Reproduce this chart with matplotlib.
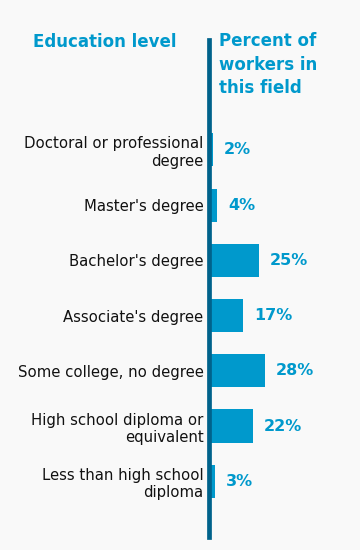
import matplotlib
matplotlib.use("Agg")
import matplotlib.pyplot as plt

categories = ["Doctoral or professional\ndegree", "Master's degree", "Bachelor's degree",
              "Associate's degree", "Some college, no degree",
              "High school diploma or\nequivalent", "Less than high school\ndiploma"]
percents = [2, 4, 25, 17, 28, 22, 3]
value_labels = ["2%", "4%", "25%", "17%", "28%", "22%", "3%"]

bar_color = "#0099CC"
axis_color = "#00628B"
bg = "#F9F9F9"

plt.rcParams['font.family'] = ['DejaVu Sans']

fig = plt.figure(figsize=(3.6, 5.5), dpi=100, facecolor=bg)
# x=0 sits on the axis line, 2 px per percent
ax = fig.add_axes([209 / 360, 1 - 537 / 550, 150 / 360, 497 / 550])
ax.set_facecolor(bg)

ypos = list(range(len(categories)))
ax.barh(ypos, percents, height=0.6, color=bar_color, zorder=1)
ax.set_xlim(0, 75)
ax.set_ylim(7.01, -1.99)

for y, v, lab in zip(ypos, percents, value_labels):
    ax.annotate(lab, (v, y), xytext=(11, 0), textcoords="offset pixels",
                va="center", ha="left", fontsize=11.5, fontweight="bold", color=bar_color)

ax.set_yticks(ypos)
ax.set_yticklabels(categories, fontsize=10.7, color="#111111", linespacing=1.2)
ax.tick_params(axis="y", length=0, pad=4)
ax.set_xticks([])
for s in ["top", "right", "bottom"]:
    ax.spines[s].set_visible(False)
ax.spines["left"].set_color(axis_color)
ax.spines["left"].set_linewidth(3.4)
ax.spines["left"].set_zorder(3)

fig.text(105 / 360, 1 - 42 / 550, "Education level", ha="center", va="center",
         fontsize=12, fontweight="bold", color=bar_color)
fig.text(219 / 360, 1 - 32 / 550, "Percent of\nworkers in\nthis field", ha="left", va="top",
         fontsize=12, fontweight="bold", color=bar_color, linespacing=1.4)

fig.savefig("out.png", dpi=100, facecolor=bg)
